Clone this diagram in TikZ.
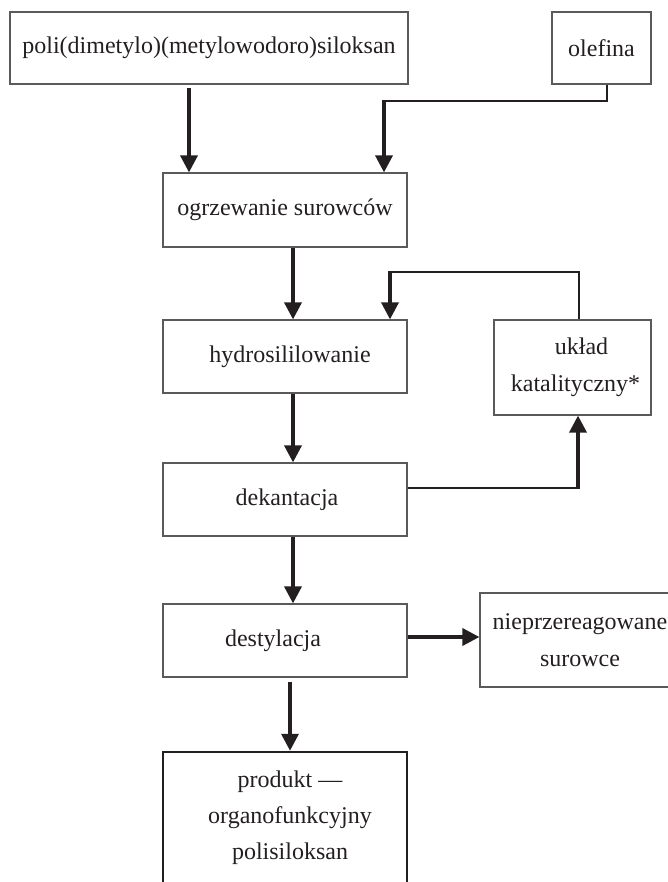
\documentclass[tikz,border=0pt]{standalone}
\usepackage{fontspec}
\setmainfont{Liberation Serif}
\usetikzlibrary{arrows.meta}
\definecolor{ink}{HTML}{231F20}
\definecolor{edge}{HTML}{5A5A5A}
\begin{document}
\begin{tikzpicture}[x=1pt,y=-1pt,
  box/.style={draw=edge, line width=1.2pt, rectangle, inner sep=0pt, align=center,
    font=\fontsize{24}{37}\selectfont, text=ink},
  txt/.style={inner sep=0pt, align=center, font=\fontsize{24}{36}\selectfont, text=ink},
  thickarrow/.style={draw=ink, line width=3.5pt, -{Triangle[width=17pt,length=17pt]}},
  thinline/.style={draw=ink, line width=1.3pt}]
\useasboundingbox (0,0) rectangle (667,882);

% boxes
\node[box, minimum width=398pt, minimum height=72pt] (src) at (209,48) {poli(dimetylo)(metylowodoro)siloksan};
\node[box, minimum width=99pt, minimum height=72pt] (ole) at (601.5,48) {olefina};
\node[box, minimum width=244pt, minimum height=74pt] (heat) at (285,210) {ogrzewanie surowców};
\node[box, minimum width=244pt, minimum height=73pt] (hyd) at (285,356.5) {\hspace*{10pt}hydrosililowanie};
\node[box, minimum width=157pt, minimum height=95pt] (cat) at (572.5,367.5) {\hspace*{18pt}układ\\\hspace*{6pt}katalityczny*};
\node[box, minimum width=244pt, minimum height=73pt] (dek) at (285,499.5) {\hspace*{4pt}dekantacja};
\node[box, minimum width=244pt, minimum height=73pt] (des) at (285,640.5) {destylacja\hspace*{24pt}};
\node[box, minimum width=200pt, minimum height=94pt] (nie) at (580,640) {nieprzereagowane\\surowce};
\node[draw=ink, line width=2.5pt, rectangle, inner sep=0pt, minimum width=244pt, minimum height=200pt] (prod) at (285,852) {};
\node[txt] (prodtxt) at (290,818) {produkt —\\organofunkcyjny\\polisiloksan};

% corner coordinates
\coordinate (oc) at (384,101);
\coordinate (lc) at (390,272);
\coordinate (dc) at (578,488);

% main flow
\draw[thickarrow] ([xshift=-20pt,yshift=-3pt]src.south) -- ([xshift=-96pt]heat.north);
\draw[thinline] ([xshift=5.5pt]ole.south) |- (oc);
\draw[thickarrow] ([yshift=0.6pt]oc) -- (oc |- heat.north);
\draw[thickarrow] ([xshift=8pt]heat.south) -- ([xshift=8pt]hyd.north);
\draw[thickarrow] ([xshift=8pt]hyd.south) -- ([xshift=8pt]dek.north);
\draw[thickarrow] ([xshift=8pt]dek.south) -- ([xshift=8pt]des.north);
\draw[thickarrow] ([xshift=5pt,yshift=-4pt]des.south) -- ([xshift=5pt]prod.north);

% catalyst loop
\draw[thinline] ([xshift=6.5pt]cat.north) |- (lc);
\draw[thickarrow] ([yshift=0.6pt]lc) -- (lc |- hyd.north);
\draw[thinline] (dek.east |- dc) -- ([xshift=1.7pt]dc);
\draw[thickarrow] ([yshift=-0.6pt]dc) -- (dc |- cat.south);

% unreacted raw materials
\draw[thickarrow] ([yshift=3.5pt]des.east) -- ([yshift=3.5pt]des.east -| nie.west);
\end{tikzpicture}
\end{document}
